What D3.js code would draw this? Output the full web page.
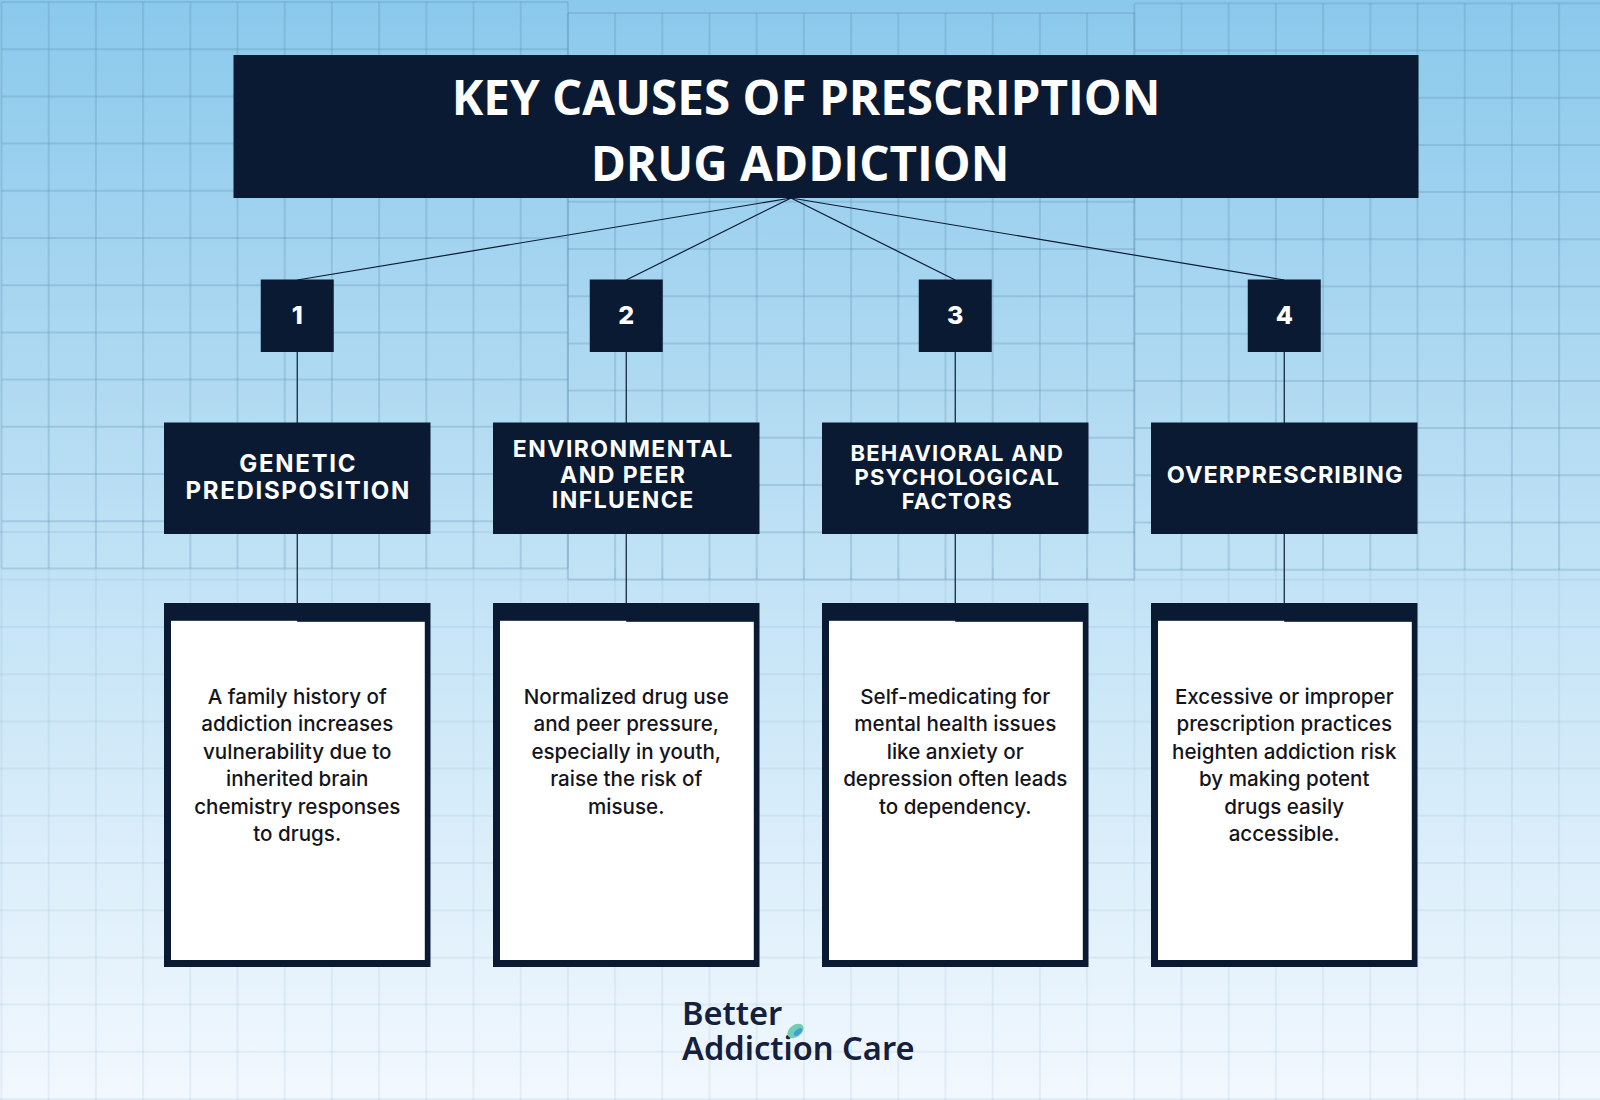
<!DOCTYPE html>
<html>
<head>
<meta charset="utf-8">
<title>Key causes of prescription drug addiction</title>
<script src="https://d3js.org/d3.v7.min.js"></script>
<style>
  html, body { margin: 0; padding: 0; background: #fff; }
  svg { display: block; }
</style>
</head>
<body>
<svg id="chart" width="1600" height="1100"></svg>
<script>
var titleLines = ['KEY CAUSES OF PRESCRIPTION', 'DRUG ADDICTION'];
var causeNumbers = ['1', '2', '3', '4'];
var causeTitles = [
  ['GENETIC', 'PREDISPOSITION'],
  ['ENVIRONMENTAL', 'AND PEER', 'INFLUENCE'],
  ['BEHAVIORAL AND', 'PSYCHOLOGICAL', 'FACTORS'],
  ['OVERPRESCRIBING']
];
var causeTexts = [
  ['A family history of', 'addiction increases', 'vulnerability due to', 'inherited brain', 'chemistry responses', 'to drugs.'],
  ['Normalized drug use', 'and peer pressure,', 'especially in youth,', 'raise the risk of', 'misuse.'],
  ['Self-medicating for', 'mental health issues', 'like anxiety or', 'depression often leads', 'to dependency.'],
  ['Excessive or improper', 'prescription practices', 'heighten addiction risk', 'by making potent', 'drugs easily', 'accessible.']
];
var logoLines = ['Better', 'Addiction Care'];

var NAVY = '#0a1a33';
var svg = d3.select('#chart');

var column = d3.scaleBand().domain(causeNumbers).range([164, 1417.5]).paddingInner(0.19);
function mid(n) { return column(n) + column.bandwidth() / 2; }

// background
var grad = svg.append('defs').append('linearGradient')
  .attr('id', 'bg').attr('x1', 0).attr('x2', 0).attr('y1', 0).attr('y2', 1);
grad.append('stop').attr('offset', 0).attr('stop-color', '#8ac9ec');
grad.append('stop').attr('offset', 0.36).attr('stop-color', '#b1daf2');
grad.append('stop').attr('offset', 0.55).attr('stop-color', '#c4e4f6');
grad.append('stop').attr('offset', 1).attr('stop-color', '#f2f8fe');
svg.append('rect').attr('width', 1600).attr('height', 1100).attr('fill', 'url(#bg)');

var CELL = 47.2;
var gridX = d3.scaleLinear().domain([0, 34]).range([1.5, 1.5 + CELL * 34]);
var grid = svg.append('g').attr('fill', 'none').attr('stroke', '#5f8fb0').attr('stroke-width', 2);

function gridLines(opacity, x0, x1, y0, y1, rows) {
  var g = grid.append('g').attr('stroke-opacity', opacity);
  g.selectAll('.h').data(rows).enter().append('line')
    .attr('x1', x0).attr('x2', x1).attr('y1', function(d) { return d; }).attr('y2', function(d) { return d; });
  var cols = d3.range(35).map(gridX).filter(function(x) { return x >= x0 - 2 && x <= x1 + 2; });
  g.selectAll('.v').data(cols).enter().append('line')
    .attr('y1', y0).attr('y2', y1).attr('x1', function(d) { return d; }).attr('x2', function(d) { return d; });
}

// faint page grid, then the three stronger panels on top of it
var pageRows = d3.range(12).map(function(k) { return 1099 - CELL * k; });
gridLines(0.1, 0, 1600, 568, 1100, pageRows);
grid.append('line').attr('stroke-opacity', 0.12).attr('x1', 0).attr('x2', 568).attr('y1', 532).attr('y2', 532);
gridLines(0.28, 1.5, 568, 2, 568, d3.range(13).map(function(k) { return 2 + CELL * k; }));
gridLines(0.28, 568, 1135, 13, 579, d3.range(13).map(function(k) { return 13 + CELL * k; }));
gridLines(0.28, 1135, 1600, 3.3, 569.5, d3.range(13).map(function(k) { return 3.3 + CELL * k; }));

// connectors
var links = svg.append('g').attr('stroke', NAVY).attr('stroke-width', 1.2);
links.selectAll('.spoke').data(causeNumbers).enter().append('line')
  .attr('x1', 791).attr('y1', 198)
  .attr('x2', mid).attr('y2', 280);
links.selectAll('.stem').data(causeNumbers).enter().append('line')
  .attr('x1', mid).attr('x2', mid).attr('y1', 352).attr('y2', 604);

// title
svg.append('rect').attr('x', 233.5).attr('y', 55).attr('width', 1185).attr('height', 143).attr('fill', NAVY);
var titleX = [806, 800];
var titleY = [115, 180.5];
svg.selectAll('.title').data(titleLines).enter().append('text')
  .attr('class', 'title')
  .attr('x', function(d, i) { return titleX[i]; })
  .attr('y', function(d, i) { return titleY[i]; })
  .attr('text-anchor', 'middle')
  .attr('font-family', '"Open Sans"').attr('font-weight', 700).attr('font-size', 47.6)
  .attr('fill', '#fff')
  .text(function(d) { return d; });

// numbered boxes
svg.selectAll('.num-box').data(causeNumbers).enter().append('rect')
  .attr('x', function(d) { return mid(d) - 36.5; }).attr('y', 279.5)
  .attr('width', 73).attr('height', 72.5).attr('fill', NAVY);
svg.selectAll('.num').data(causeNumbers).enter().append('text')
  .attr('x', mid).attr('y', 324)
  .attr('text-anchor', 'middle')
  .attr('font-family', 'Inter').attr('font-weight', 800).attr('font-size', 25)
  .attr('fill', '#fff')
  .text(function(d) { return d; });

// category boxes
svg.selectAll('.cat-box').data(causeNumbers).enter().append('rect')
  .attr('x', function(d) { return column(d); }).attr('y', 422.5)
  .attr('width', column.bandwidth()).attr('height', 111.5).attr('fill', NAVY);

var catDx = [1, -3, 2, 1];
var catSize = [24, 23, 22, 23.5];
var catLead = [27.3, 25.3, 24, 0];
var catTop = [471.7, 457.3, 461, 483];
var catSpacing = [1.7, 1.45, 1.25, 1];
causeNumbers.forEach(function(n, i) {
  svg.selectAll('.cat' + n).data(causeTitles[i]).enter().append('text')
    .attr('class', 'cat' + n)
    .attr('x', mid(n) + catDx[i])
    .attr('y', function(d, j) { return catTop[i] + j * catLead[i]; })
    .attr('text-anchor', 'middle')
    .attr('font-family', 'Inter').attr('font-weight', 700)
    .attr('font-size', catSize[i]).attr('letter-spacing', catSpacing[i])
    .attr('fill', '#fff')
    .text(function(d) { return d; });
});

// description cards
var cards = svg.selectAll('.card').data(causeNumbers).enter().append('g');
cards.append('rect')
  .attr('x', function(d) { return column(d); }).attr('y', 603)
  .attr('width', column.bandwidth()).attr('height', 364).attr('fill', NAVY);
cards.append('rect')
  .attr('x', function(d) { return column(d) + 7; }).attr('y', 620.8)
  .attr('width', column.bandwidth() - 12.7).attr('height', 339.2).attr('fill', '#fff');
cards.append('rect')
  .attr('x', mid).attr('y', 620)
  .attr('width', function() { return column.bandwidth() / 2 - 5; }).attr('height', 1.8).attr('fill', NAVY);

causeNumbers.forEach(function(n, i) {
  svg.selectAll('.body' + n).data(causeTexts[i]).enter().append('text')
    .attr('class', 'body' + n)
    .attr('x', mid(n))
    .attr('y', function(d, j) { return 704 + j * 27.4; })
    .attr('text-anchor', 'middle')
    .attr('font-family', 'Inter').attr('font-weight', 500).attr('font-size', 20.6)
    .attr('fill', '#14141c')
    .text(function(d) { return d; });
});

// logo
var logoY = [1025.3, 1060];
svg.selectAll('.logo').data(logoLines).enter().append('text')
  .attr('class', 'logo')
  .attr('x', 682)
  .attr('y', function(d, i) { return logoY[i]; })
  .attr('font-family', '"Noto Sans"').attr('font-weight', 600).attr('font-size', 32.6)
  .attr('fill', '#15203d')
  .text(function(d) { return d; });
svg.append('ellipse').attr('cx', 795.5).attr('cy', 1031).attr('rx', 9).attr('ry', 6)
  .attr('transform', 'rotate(-35 795.5 1031)').attr('fill', '#73cdb4');
svg.append('ellipse').attr('cx', 798).attr('cy', 1032).attr('rx', 5).attr('ry', 2.5)
  .attr('transform', 'rotate(-40 798 1032)').attr('fill', '#3f9fdc');
</script>
</body>
</html>
